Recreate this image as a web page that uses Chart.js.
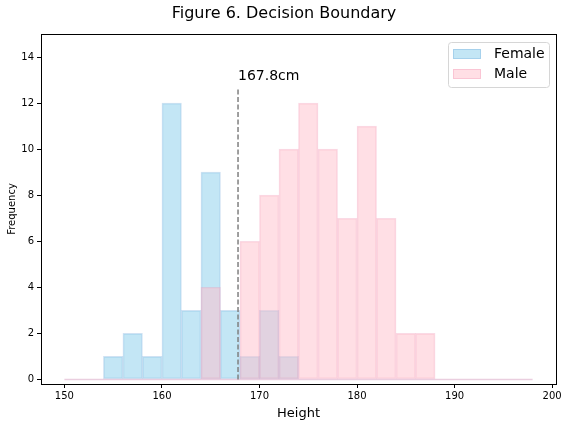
<!DOCTYPE html>
<html>
<head>
<meta charset="utf-8">
<script src="https://cdn.jsdelivr.net/npm/chart.js@4"></script>
<style>
  html, body { margin: 0; padding: 0; background: #fff; }
  #wrap { width: 568px; height: 426px; }
</style>
</head>
<body>
<div id="wrap"><canvas id="chart" width="568" height="426"></canvas></div>
<script>
// bin centres (width 2, 150..198)
const binCenters = [151,153,155,157,159,161,163,165,167,169,171,173,175,177,179,181,183,185,187,189,191,193,195,197];
const femaleCounts = [0,0,1,2,1,12,3,9,3,1,3,1,0,0,0,0,0,0,0,0,0,0,0,0];
const maleCounts   = [0,0,0,0,0,0,0,4,0,6,8,10,12,10,7,11,7,2,2,0,0,0,0,0];
const binRange = [150, 198];
const boundary = 167.8;
const boundaryTop = 12.7;
const boundaryLabel = '167.8cm';
const xTicks = [150,160,170,180,190,200];
const yTicks = [0,2,4,6,8,10,12,14];

const FONT = 'DejaVu Sans';
const FEMALE_FILL = 'rgba(135,206,235,0.5)';
const FEMALE_EDGE = 'rgba(100,160,215,0.3)';
const MALE_FILL = 'rgba(255,192,203,0.5)';
const MALE_EDGE = 'rgba(240,150,180,0.35)';

const toPoints = (counts) => binCenters.map((x, i) => ({ x: x, y: counts[i] }));

const extras = {
    id: 'extras',
    afterDraw(chart) {
        const { ctx, chartArea: a, scales } = chart;
        ctx.save();
        // frame
        ctx.strokeStyle = '#000';
        ctx.lineWidth = 1;
        ctx.strokeRect(a.left + 0.5, a.top + 0.5, a.right - a.left, a.bottom - a.top);

        // title
        ctx.fillStyle = '#000';
        ctx.font = '16px "' + FONT + '"';
        ctx.textAlign = 'center';
        ctx.textBaseline = 'middle';
        ctx.fillText('Figure 6. Decision Boundary', 284, 14);

        // boundary label
        ctx.font = '14px "' + FONT + '"';
        ctx.textAlign = 'left';
        ctx.textBaseline = 'alphabetic';
        ctx.fillText(boundaryLabel, scales.x.getPixelForValue(boundary), scales.y.getPixelForValue(13));

        // legend
        const lx = 448, ly = 42, lw = 101, lh = 45;
        ctx.fillStyle = 'rgba(255,255,255,0.8)';
        ctx.strokeStyle = '#d6d6d6';
        ctx.beginPath();
        ctx.roundRect(lx + 0.5, ly + 0.5, lw, lh, 3);
        ctx.fill();
        ctx.stroke();
        const items = [
            { label: 'Female', fill: FEMALE_FILL, edge: FEMALE_EDGE, y: 49 },
            { label: 'Male', fill: MALE_FILL, edge: MALE_EDGE, y: 69 }
        ];
        items.forEach(it => {
            ctx.fillStyle = it.fill;
            ctx.fillRect(453, it.y, 28, 10);
            ctx.strokeStyle = it.edge;
            ctx.strokeRect(453.5, it.y + 0.5, 27, 9);
            ctx.fillStyle = '#000';
            ctx.font = '14px "' + FONT + '"';
            ctx.textBaseline = 'middle';
            ctx.fillText(it.label, 494, it.y + 5);
        });
        ctx.restore();
    }
};

new Chart(document.getElementById('chart'), {
    type: 'bar',
    data: {
        datasets: [
            {
                label: 'boundary',
                type: 'line',
                data: [{ x: boundary, y: 0 }, { x: boundary, y: boundaryTop }],
                borderColor: 'rgba(128,128,128,1)',
                borderWidth: 1.5,
                borderDash: [5, 2.5],
                pointRadius: 0,
                order: 0
            },
            {
                label: 'baseline',
                type: 'line',
                data: binRange.map(x => ({ x: x, y: 0 })),
                borderColor: 'rgba(225,185,210,0.7)',
                borderWidth: 1.5,
                pointRadius: 0,
                order: 1
            },
            {
                label: 'Male',
                data: toPoints(maleCounts),
                backgroundColor: MALE_FILL,
                borderColor: MALE_EDGE,
                borderWidth: 1,
                borderSkipped: false,
                order: 2
            },
            {
                label: 'Female',
                data: toPoints(femaleCounts),
                backgroundColor: FEMALE_FILL,
                borderColor: FEMALE_EDGE,
                borderWidth: 1,
                borderSkipped: false,
                order: 3
            }
        ]
    },
    options: {
        responsive: false,
        animation: false,
        events: [],
        grouped: false,
        barPercentage: 1,
        categoryPercentage: 1,
        layout: { padding: { top: 34, right: 12, left: 0, bottom: 0 } },
        plugins: {
            legend: { display: false },
            title: { display: false },
            tooltip: { enabled: false }
        },
        scales: {
            x: {
                type: 'linear',
                min: 147.6,
                max: 200.4,
                offset: false,
                afterBuildTicks: (s) => { s.ticks = xTicks.map(v => ({ value: v })); },
                afterFit: (s) => { s.height = 42; },
                grid: { offset: false, drawOnChartArea: false, drawTicks: true, tickLength: 4, color: '#000' },
                border: { display: false },
                ticks: { color: '#000', font: { family: FONT, size: 10 }, padding: 2, maxRotation: 0 },
                title: { display: true, text: 'Height', color: '#000', font: { family: FONT, size: 13 }, padding: { top: 2, bottom: 5 } }
            },
            y: {
                type: 'linear',
                min: -0.2,
                max: 15,
                afterBuildTicks: (s) => { s.ticks = yTicks.map(v => ({ value: v })); },
                afterFit: (s) => { s.width = 41; },
                grid: { offset: false, drawOnChartArea: false, drawTicks: true, tickLength: 4, color: '#000' },
                border: { display: false },
                ticks: { color: '#000', font: { family: FONT, size: 10 }, padding: 3 },
                title: { display: true, text: 'Frequency', color: '#000', font: { family: FONT, size: 10 }, padding: { top: 6, bottom: 0 } }
            }
        }
    },
    plugins: [extras]
});
</script>
</body>
</html>
